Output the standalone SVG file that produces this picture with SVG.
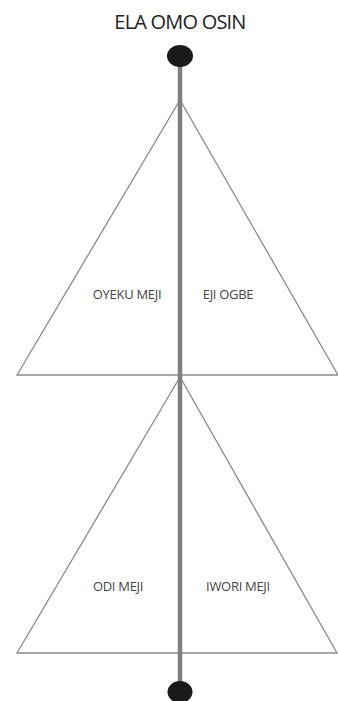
<svg xmlns="http://www.w3.org/2000/svg" width="338" height="701" viewBox="0 0 338 701">
<style>
.tri{fill:none;stroke:#8a8a8a;stroke-width:1.3}
.lbl{font-family:"Open Sans","Liberation Sans",sans-serif;font-size:13px;fill:#444;text-anchor:middle;letter-spacing:-0.3px}
.title{font-family:"Open Sans","Liberation Sans",sans-serif;font-size:20px;fill:#222;text-anchor:middle;letter-spacing:-0.8px}
.dot{fill:#1a1a1a}
</style>
<rect width="338" height="701" fill="#fff"/>
<g id="title"><text class="title" x="180" y="29">ELA OMO OSIN</text></g>
<g id="upper-triangle">
<polygon class="tri" points="180,100 17,375 338,375"/>
<text class="lbl" x="127" y="299">OYEKU MEJI</text>
<text class="lbl" x="228" y="299">EJI OGBE</text>
</g>
<g id="lower-triangle">
<polygon class="tri" points="180,377 17,653 337,653"/>
<text class="lbl" x="118" y="591">ODI MEJI</text>
<text class="lbl" x="238" y="591">IWORI MEJI</text>
</g>
<g id="connectors">
<line x1="180" y1="56" x2="180" y2="692" stroke="#7f7f7f" stroke-width="4.5"/>
</g>
<g id="top-node"><ellipse class="dot" cx="180" cy="56" rx="13" ry="11"/></g>
<g id="bottom-node"><ellipse class="dot" cx="180" cy="692" rx="12.5" ry="11"/></g>
</svg>
